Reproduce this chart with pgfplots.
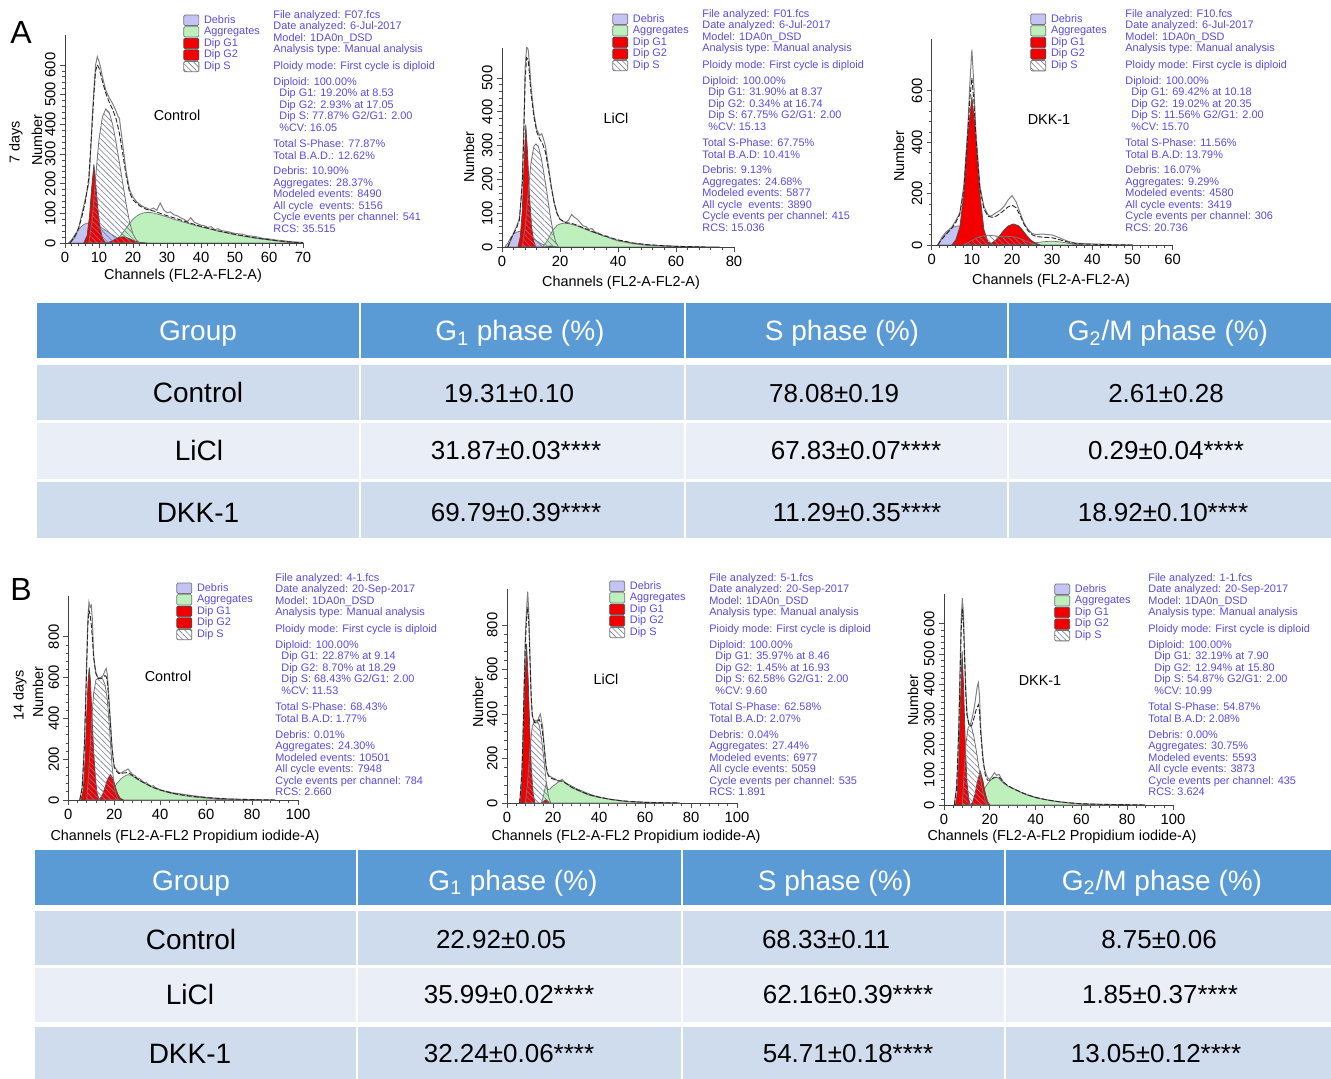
\documentclass[border=0pt]{standalone}
\usepackage{fontspec}
\setmainfont{Liberation Sans}
\usepackage{pgfplots}
\pgfplotsset{compat=1.18}
\usetikzlibrary{patterns.meta}
\definecolor{hdr}{HTML}{5B9BD5}
\definecolor{rowA}{HTML}{CFDCEE}
\definecolor{rowB}{HTML}{E9EEF7}
\definecolor{txtblue}{HTML}{584CDE}
\definecolor{debris}{HTML}{C4C4F4}
\definecolor{aggr}{HTML}{BEF0BE}
\definecolor{dipred}{HTML}{F20000}
\definecolor{hatch}{HTML}{7C7C9C}
\newcommand{\infofont}{\fontsize{5.45}{5.75}\selectfont}
\newcommand{\hdrfont}{\fontsize{14}{16}\selectfont}
\newcommand{\namefont}{\fontsize{14}{16}\selectfont}
\newcommand{\numfont}{\fontsize{13}{15}\selectfont}
\newcommand{\labfont}{\fontsize{7.2}{8}\selectfont}
\tikzset{
 deb/.style={fill=debris, draw=black!55, line width=0.35pt},
 agg/.style={fill=aggr, draw=black!55, line width=0.35pt},
 dip/.style={fill=dipred, draw=black!70, line width=0.35pt},
 dips/.style={pattern={Lines[angle=-45,distance=2pt,line width=0.3pt]}, pattern color=hatch, draw=black!55, line width=0.4pt},
 rawl/.style={draw=black!50, line width=0.5pt},
 fitl/.style={draw=black!85, line width=0.45pt, dash pattern=on 2.5pt off 1pt},
}
\pgfplotsset{
 histo/.style={scale only axis, anchor=south west, axis lines*=left,
  axis line style={-, black!75, line width=0.45pt}, xmin=0, ymin=0,
  tick align=outside, major tick length=2.5pt, minor tick length=1.3pt,
  tick style={black!70, line width=0.35pt}, minor x tick num=4, minor y tick num=4,
  tick label style={font=\fontsize{7.4}{8}\selectfont},
  /pgf/number format/assume math mode=true,
  yticklabel style={rotate=90, anchor=south, inner sep=2pt},
  xticklabel style={inner sep=2pt},
  legend cell align=left,
  legend image code/.code={\draw[##1, rounded corners=0.6pt] (0pt,-2.6pt) rectangle (7.5pt,2.6pt);},
  legend style={anchor=north west, draw=none, fill=none, inner sep=0pt, row sep=0pt,
   font=\fontsize{5.45}{6}\selectfont, text=txtblue,
   /tikz/every odd column/.append style={column sep=2pt},
   nodes={inner sep=0.4pt, text height=3.9pt, text depth=1.1pt}},
 },
}
\newcommand{\legs}{%
 \addlegendimage{deb}\addlegendentry{Debris}
 \addlegendimage{agg}\addlegendentry{Aggregates}
 \addlegendimage{dip}\addlegendentry{Dip G1}
 \addlegendimage{dip}\addlegendentry{Dip G2}
 \addlegendimage{dips}\addlegendentry{Dip S}}
\begin{document}
\begin{tikzpicture}
\begin{scope}[x=0.5pt,y=-0.5pt]
\useasboundingbox (0,0) rectangle (1331,1079);
% ---------- tables
\foreach \a/\b in {37/359,361/684,686/1007,1009/1331}{
 \fill[hdr] (\a,303) rectangle (\b,358);
 \fill[rowA] (\a,365) rectangle (\b,420);
 \fill[rowB] (\a,423) rectangle (\b,479);
 \fill[rowA] (\a,482) rectangle (\b,538);
}
\foreach \a/\b in {35/356,358/681,683/1004,1006/1331}{
 \fill[hdr] (\a,850) rectangle (\b,905);
 \fill[rowA] (\a,911) rectangle (\b,965);
 \fill[rowB] (\a,968) rectangle (\b,1022);
 \fill[rowA] (\a,1027) rectangle (\b,1079);
}
\begin{scope}[every node/.style={anchor=base, inner sep=0pt}]
\node[font=\hdrfont, text=white] at (198,341) {Group};
\node[font=\hdrfont, text=white] at (520,341) {G\textsubscript{1} phase (\%)};
\node[font=\hdrfont, text=white] at (842,341) {S phase (\%)};
\node[font=\hdrfont, text=white] at (1168,341) {G\textsubscript{2}/M phase (\%)};
\node[font=\namefont] at (198,403) {Control};
\node[font=\namefont] at (199,460) {LiCl};
\node[font=\namefont] at (198,522) {DKK-1};
\node[font=\numfont] at (509,402) {19.31±0.10};
\node[font=\numfont] at (834,402) {78.08±0.19};
\node[font=\numfont] at (1166,402) {2.61±0.28};
\node[font=\numfont] at (516,459) {31.87±0.03****};
\node[font=\numfont] at (856,459) {67.83±0.07****};
\node[font=\numfont] at (1166,459) {0.29±0.04****};
\node[font=\numfont] at (516,521) {69.79±0.39****};
\node[font=\numfont] at (857,521) {11.29±0.35****};
\node[font=\numfont] at (1163,521) {18.92±0.10****};
\node[font=\hdrfont, text=white] at (191,890) {Group};
\node[font=\hdrfont, text=white] at (513,890) {G\textsubscript{1} phase (\%)};
\node[font=\hdrfont, text=white] at (835,890) {S phase (\%)};
\node[font=\hdrfont, text=white] at (1162,890) {G\textsubscript{2}/M phase (\%)};
\node[font=\namefont] at (191,949) {Control};
\node[font=\namefont] at (190,1004) {LiCl};
\node[font=\namefont] at (190,1063) {DKK-1};
\node[font=\numfont] at (501,948) {22.92±0.05};
\node[font=\numfont] at (826,948) {68.33±0.11};
\node[font=\numfont] at (1159,948) {8.75±0.06};
\node[font=\numfont] at (509,1003) {35.99±0.02****};
\node[font=\numfont] at (848,1003) {62.16±0.39****};
\node[font=\numfont] at (1160,1003) {1.85±0.37****};
\node[font=\numfont] at (509,1062) {32.24±0.06****};
\node[font=\numfont] at (848,1062) {54.71±0.18****};
\node[font=\numfont] at (1156,1062) {13.05±0.12****};
\end{scope}
% ---------- panel letters
\node[font=\fontsize{16}{18}\selectfont] at (21,32) {A};
\node[font=\fontsize{16}{18}\selectfont] at (21,589) {B};
% ---------- axis labels
\begin{scope}[every node/.style={font=\labfont, inner sep=0pt}]
\node at (183,276) {Channels (FL2-A-FL2-A)};
\node at (621,283) {Channels (FL2-A-FL2-A)};
\node at (1051,281) {Channels (FL2-A-FL2-A)};
\node at (185,837) {Channels (FL2-A-FL2 Propidium iodide-A)};
\node at (626,837) {Channels (FL2-A-FL2 Propidium iodide-A)};
\node at (1062,837) {Channels (FL2-A-FL2 Propidium iodide-A)};
\node[rotate=90] at (37,140) {Number};
\node[rotate=90] at (16,142) {7 days};
\node[rotate=90] at (469,157) {Number};
\node[rotate=90] at (899,156) {Number};
\node[rotate=90] at (38,692) {Number};
\node[rotate=90] at (20,695) {14 days};
\node[rotate=90] at (478,702) {Number};
\node[rotate=90] at (913,700) {Number};
\node at (177,115) {Control};
\node at (616,118) {LiCl};
\node at (1049,120) {DKK-1};
\node at (168,676) {Control};
\node at (606,679) {LiCl};
\node at (1040,681) {DKK-1};
\end{scope}
% ---------- info blocks
\begin{scope}[every node/.style={anchor=north west, align=left, inner sep=0pt, text=txtblue, font=\infofont}]
\node at (273,10) {File analyzed: F07.fcs\\Date analyzed: 6-Jul-2017\\Model: 1DA0n\_DSD\\Analysis type: Manual analysis\\[2.65pt]Ploidy mode: First cycle is diploid\\[2pt]Diploid: 100.00\%\\\hspace*{3pt}Dip G1: 19.20\% at 8.53\\\hspace*{3pt}Dip G2: 2.93\% at 17.05\\\hspace*{3pt}Dip S: 77.87\% G2/G1: 2.00\\\hspace*{3pt}\%CV: 16.05\\[2.5pt]Total S-Phase: 77.87\%\\Total B.A.D.: 12.62\%\\[2.2pt]Debris: 10.90\%\\Aggregates: 28.37\%\\Modeled events: 8490\\All cycle\ \ events: 5156\\Cycle events per channel: 541\\RCS: 35.515};
\node at (702,9) {File analyzed: F01.fcs\\Date analyzed: 6-Jul-2017\\Model: 1DA0n\_DSD\\Analysis type: Manual analysis\\[2.65pt]Ploidy mode: First cycle is diploid\\[2pt]Diploid: 100.00\%\\\hspace*{3pt}Dip G1: 31.90\% at 8.37\\\hspace*{3pt}Dip G2: 0.34\% at 16.74\\\hspace*{3pt}Dip S: 67.75\% G2/G1: 2.00\\\hspace*{3pt}\%CV: 15.13\\[2.5pt]Total S-Phase: 67.75\%\\Total B.A.D: 10.41\%\\[2.2pt]Debris: 9.13\%\\Aggregates: 24.68\%\\Modeled events: 5877\\All cycle\ \ events: 3890\\Cycle events per channel: 415\\RCS: 15.036};
\node at (1125,9) {File analyzed: F10.fcs\\Date analyzed: 6-Jul-2017\\Model: 1DA0n\_DSD\\Analysis type: Manual analysis\\[2.65pt]Ploidy mode: First cycle is diploid\\[2pt]Diploid: 100.00\%\\\hspace*{3pt}Dip G1: 69.42\% at 10.18\\\hspace*{3pt}Dip G2: 19.02\% at 20.35\\\hspace*{3pt}Dip S: 11.56\% G2/G1: 2.00\\\hspace*{3pt}\%CV: 15.70\\[2.5pt]Total S-Phase: 11.56\%\\Total B.A.D: 13.79\%\\[2.2pt]Debris: 16.07\%\\Aggregates: 9.29\%\\Modeled events: 4580\\All cycle events: 3419\\Cycle events per channel: 306\\RCS: 20.736};
\node at (275,573) {File analyzed: 4-1.fcs\\Date analyzed: 20-Sep-2017\\Model: 1DA0n\_DSD\\Analysis type: Manual analysis\\[2.65pt]Ploidy mode: First cycle is diploid\\[2pt]Diploid: 100.00\%\\\hspace*{3pt}Dip G1: 22.87\% at 9.14\\\hspace*{3pt}Dip G2: 8.70\% at 18.29\\\hspace*{3pt}Dip S: 68.43\% G2/G1: 2.00\\\hspace*{3pt}\%CV: 11.53\\[2.5pt]Total S-Phase: 68.43\%\\Total B.A.D: 1.77\%\\[2.2pt]Debris: 0.01\%\\Aggregates: 24.30\%\\Modeled events: 10501\\All cycle events: 7948\\Cycle events per channel: 784\\RCS: 2.660};
\node at (709,573) {File analyzed: 5-1.fcs\\Date analyzed: 20-Sep-2017\\Model: 1DA0n\_DSD\\Analysis type: Manual analysis\\[2.65pt]Pioidy mode: First cycle is diploid\\[2pt]Diploid: 100.00\%\\\hspace*{3pt}Dip G1: 35.97\% at 8.46\\\hspace*{3pt}Dip G2: 1.45\% at 16.93\\\hspace*{3pt}Dip S: 62.58\% G2/G1: 2.00\\\hspace*{3pt}\%CV: 9.60\\[2.5pt]Total S-Phase: 62.58\%\\Total B.A.D: 2.07\%\\[2.2pt]Debris: 0.04\%\\Aggregates: 27.44\%\\Modeled events: 6977\\All cycle events: 5059\\Cycle events per channel: 535\\RCS: 1.891};
\node at (1148,573) {File analyzed: 1-1.fcs\\Date analyzed: 20-Sep-2017\\Model: 1DA0n\_DSD\\Analysis type: Manual analysis\\[2.65pt]Ploidy mode: First cycle is diploid\\[2pt]Diploid: 100.00\%\\\hspace*{3pt}Dip G1: 32.19\% at 7.90\\\hspace*{3pt}Dip G2: 12.94\% at 15.80\\\hspace*{3pt}Dip S: 54.87\% G2/G1: 2.00\\\hspace*{3pt}\%CV: 10.99\\[2.5pt]Total S-Phase: 54.87\%\\Total B.A.D: 2.08\%\\[2.2pt]Debris: 0.00\%\\Aggregates: 30.75\%\\Modeled events: 5593\\All cycle events: 3873\\Cycle events per channel: 435\\RCS: 3.624};
\end{scope}
\end{scope}

% ================= A Control
\begin{axis}[histo, at={(32.5pt,-121.5pt)}, width=119pt, height=103.85pt,
 xmax=70, ymax=700, xtick={0,10,...,70}, ytick={0,100,...,600},
 legend style={at={(0.496,1.1025)}}]
\legs
\addplot[deb, forget plot] coordinates {(1,0)(2,12)(3,30)(4,45)(5,58)(6,65)(7,68)(8,66)(9,62)(10,56)(11,50)(12,42)(13,35)(14,27)(15,20)(16,13)(17,7)(18,3)(19,0)} \closedcycle;
\addplot[agg, forget plot] coordinates {(14,0)(15,8)(16,20)(17,35)(18,50)(19,66)(20,80)(21,90)(22,97)(23,101)(24,103)(25,103)(26,101)(28,95)(30,88)(32,80)(35,70)(38,60)(40,54)(43,46)(45,40)(48,33)(50,28)(53,22)(55,18)(58,13)(60,10)(63,6)(65,4)(68,1)(70,0)} \closedcycle;
\addplot[dip, forget plot] coordinates {(5.5,0)(6.5,25)(7.2,90)(7.8,180)(8.5,265)(9.1,190)(9.8,100)(10.5,40)(11.2,12)(12,0)} \closedcycle;
\addplot[dip, forget plot] coordinates {(12,0)(13,3)(14,8)(15,14)(16,19)(17,21)(18,19)(19,14)(20,9)(21,5)(22,2)(24,0)} \closedcycle;
\addplot[dips, forget plot] coordinates {(7,0)(8,80)(9,220)(10,350)(11,425)(12,452)(13,440)(14,400)(15,340)(16,270)(17,200)(18,130)(19,70)(20,30)(21,10)(22,0)} \closedcycle;
\addplot[rawl, forget plot] coordinates {(1.5,0)(3,20)(4,50)(5,100)(6,150)(7,200)(7.5,300)(8,420)(8.5,520)(9,600)(9.5,628)(10,612)(10.5,590)(11,560)(12,515)(13,490)(14,470)(15,445)(15.5,430)(16,420)(17,330)(18,240)(19,180)(20,155)(21,140)(22,130)(23,122)(24,118)(25,112)(26,118)(27,110)(28,135)(29,112)(30,102)(31,105)(32,95)(33,92)(34,85)(35,80)(36,72)(37,85)(38,70)(39,65)(40,60)(41,58)(42,52)(43,55)(44,45)(45,48)(46,42)(48,38)(50,32)(52,30)(54,24)(56,22)(58,16)(60,14)(62,10)(64,8)(66,5)(68,3)(70,2)};
\addplot[fitl, forget plot] coordinates {(1.5,0)(3,25)(4,50)(5,90)(6,140)(7,220)(8,400)(8.5,500)(9,580)(9.5,600)(10,590)(11,545)(12,505)(13,475)(14,450)(15,420)(16,370)(17,300)(18,225)(19,170)(20,145)(22,125)(24,113)(26,108)(28,100)(30,92)(32,85)(35,74)(38,63)(40,56)(43,47)(45,41)(48,34)(50,29)(53,23)(55,19)(58,14)(60,11)(63,7)(65,5)(68,2)(70,1)};
\end{axis}

% ================= A LiCl
\begin{axis}[histo, at={(251pt,-123.5pt)}, width=116pt, height=99.7pt,
 xmax=80, ymax=590, xtick={0,20,...,80}, ytick={0,100,...,500},
 legend style={at={(0.474,1.1735)}}]
\legs
\addplot[deb, forget plot] coordinates {(1,0)(2,12)(3,28)(4,38)(5,44)(6,46)(7,44)(8,40)(9,35)(10,30)(11,24)(12,18)(13,12)(14,8)(15,4)(16,2)(17,0)} \closedcycle;
\addplot[agg, forget plot] coordinates {(14,0)(15,10)(16,25)(17,42)(18,55)(19,64)(20,68)(21,70)(22,70)(23,69)(24,67)(26,62)(28,55)(30,48)(32,42)(35,33)(38,25)(40,20)(43,15)(45,12)(48,9)(50,7)(55,4)(60,2)(65,1)(70,0)} \closedcycle;
\addplot[dip, forget plot] coordinates {(5.5,0)(6.3,30)(7,110)(7.6,250)(8.2,362)(8.8,280)(9.5,150)(10.2,60)(11,15)(11.7,0)} \closedcycle;
\addplot[dip, forget plot] coordinates {(15,0)(16,2)(16.7,3)(17.5,2)(18.5,0)} \closedcycle;
\addplot[dips, forget plot] coordinates {(7,0)(8,60)(9,160)(10,250)(11,298)(11.7,305)(12.5,298)(13.5,265)(14.5,215)(15.5,160)(16.5,100)(17.5,50)(18.5,15)(19.5,0)} \closedcycle;
\addplot[rawl, forget plot] coordinates {(2,0)(3,20)(4,42)(5,60)(6,85)(6.5,130)(7,200)(7.5,350)(8,535)(8.5,592)(9,585)(9.5,540)(10,475)(11,395)(12,347)(13,330)(13.7,335)(14.3,320)(15,298)(16,240)(17,180)(18,132)(19,100)(20,82)(21,76)(22,73)(23,80)(24,96)(25,88)(26,82)(27,72)(28,62)(29,60)(30,52)(31,55)(32,45)(33,42)(34,38)(35,32)(36,33)(37,27)(38,24)(40,18)(42,15)(45,10)(48,7)(50,5)(55,3)(60,2)(65,1)(70,0.5)(75,0)};
\addplot[fitl, forget plot] coordinates {(2,0)(3,22)(4,40)(5,55)(6,80)(7,190)(7.5,330)(8,500)(8.5,560)(9,555)(9.5,510)(10,455)(11,385)(12,340)(13,320)(14,305)(15,280)(16,230)(17,175)(18,130)(19,98)(20,82)(22,72)(24,70)(26,64)(28,57)(30,50)(32,43)(35,34)(38,26)(40,21)(43,16)(45,12)(50,7)(55,4)(60,2)(65,1)(70,0)};
\end{axis}

% ================= A DKK-1
\begin{axis}[histo, at={(465.85pt,-122.5pt)}, width=120.5pt, height=102.8pt,
 xmax=60, ymax=800, xtick={0,10,...,60}, ytick={0,200,...,600},
 legend style={at={(0.408,1.128)}}]
\legs
\addplot[deb, forget plot] coordinates {(1.5,0)(2.5,30)(3.5,50)(4.5,62)(5.5,70)(6.5,74)(7.5,74)(8.5,70)(9.5,60)(10.5,48)(11.5,35)(12.5,24)(13.5,15)(14.5,8)(15.5,3)(16.5,0)} \closedcycle;
\addplot[agg, forget plot] coordinates {(22,0)(24,4)(26,9)(28,13)(30,15)(32,12)(34,7)(36,3)(38,1)(40,0)} \closedcycle;
\addplot[dip, forget plot] coordinates {(5,0)(6,20)(7,70)(8,200)(9,430)(10,576)(11,430)(12,200)(13,60)(14,12)(15,0)} \closedcycle;
\addplot[dip, forget plot] coordinates {(14,0)(15,8)(16,20)(17,38)(18,58)(19,74)(20.3,82)(21.5,76)(22.5,60)(23.5,40)(24.5,22)(25.5,10)(27,0)} \closedcycle;
\addplot[dips, forget plot] coordinates {(8,0)(10,18)(12,33)(14,38)(16,35)(18,32)(20,34)(22,25)(24,12)(26,0)} \closedcycle;
\addplot[rawl, forget plot] coordinates {(1.5,0)(2.5,25)(3.5,45)(5,70)(6,95)(7,125)(8,230)(9,460)(9.5,630)(10,760)(10.5,620)(11,435)(12,230)(13,150)(14,118)(14.5,112)(15,115)(16,125)(17,135)(18,150)(19,175)(20,192)(21,168)(22,125)(23,85)(24,60)(25,45)(26,40)(27,42)(28,42)(29,40)(30,39)(31,33)(32,27)(33,20)(34,14)(35,10)(36,7)(38,5)(40,4)(42,3)(45,1)(50,0)};
\addplot[fitl, forget plot] coordinates {(1.5,0)(2.5,22)(3.5,40)(5,65)(6,88)(7,120)(8,215)(9,440)(9.5,570)(10,650)(10.5,560)(11,420)(12,220)(13,140)(14,112)(15,108)(16,112)(17,122)(18,135)(19,148)(20,155)(21,145)(22,115)(23,80)(24,55)(25,40)(26,33)(28,30)(30,28)(32,20)(34,11)(36,6)(38,4)(40,3)(45,1)(50,0)};
\end{axis}

% ================= B Control
\begin{axis}[histo, at={(34.15pt,-400pt)}, width=114.85pt, height=102pt,
 xmax=100, ymax=1000, xtick={0,20,...,100}, ytick={0,200,...,800},
 legend style={at={(0.469,1.0686)}}]
\legs
\addplot[agg, forget plot] coordinates {(17,0)(18,20)(19,40)(20,60)(21,80)(22,92)(23,105)(24,113)(25,120)(26,124)(27,122)(28,117)(30,103)(32,90)(34,78)(36,66)(38,56)(40,48)(43,38)(45,32)(48,26)(50,22)(53,17)(55,14)(58,11)(60,9)(63,7)(65,5)(70,3)(75,2)(80,1)(90,0)} \closedcycle;
\addplot[dip, forget plot] coordinates {(5.5,0)(6.5,50)(7.3,200)(8,420)(8.6,580)(9.1,650)(9.6,590)(10.3,420)(11,250)(11.8,110)(12.5,35)(13.5,0)} \closedcycle;
\addplot[dip, forget plot] coordinates {(13,0)(14,10)(15,30)(16,62)(17,100)(18.3,125)(19.5,105)(20.5,65)(21.5,30)(22.5,10)(24,0)} \closedcycle;
\addplot[dips, forget plot] coordinates {(8,0)(9,150)(10,360)(11,520)(12,588)(13,598)(14,600)(15,592)(16,565)(17,490)(18,340)(19,175)(20,65)(21,18)(22,0)} \closedcycle;
\addplot[rawl, forget plot] coordinates {(5,0)(6,60)(6.5,150)(7,280)(7.5,470)(8,680)(8.5,890)(9,970)(9.5,945)(10,955)(10.5,880)(11,720)(11.5,660)(12,625)(13,598)(14,600)(15,608)(15.5,620)(16,635)(16.5,645)(17,615)(17.5,540)(18,440)(19,265)(19.5,200)(20,165)(21,148)(22,135)(23,132)(24,140)(25,145)(26,152)(27,138)(28,125)(29,120)(30,108)(31,105)(32,95)(33,85)(34,86)(35,75)(36,68)(37,70)(38,60)(39,56)(40,50)(42,44)(44,40)(45,36)(47,33)(50,28)(53,23)(55,20)(58,16)(60,13)(63,10)(65,8)(70,5)(75,3)(80,2)(85,1)(90,0)};
\addplot[fitl, forget plot] coordinates {(5,0)(6,55)(7,260)(7.5,450)(8,650)(8.5,850)(9,930)(9.5,910)(10,860)(10.5,790)(11,700)(12,620)(13,595)(14,595)(15,600)(16,610)(16.5,605)(17,580)(18,430)(19,260)(20,160)(21,140)(22,130)(24,132)(26,135)(28,120)(30,104)(32,90)(34,78)(36,66)(38,57)(40,49)(45,34)(50,24)(55,17)(60,12)(65,8)(70,5)(80,2)(90,0)};
\end{axis}

% ================= B LiCl
\begin{axis}[histo, at={(253.5pt,-401.5pt)}, width=115pt, height=106.8pt,
 xmax=100, ymax=960, xtick={0,20,...,100}, ytick={0,200,...,800},
 legend style={at={(0.443,1.044)}}]
\legs
\addplot[agg, forget plot] coordinates {(15,0)(16,40)(17,88)(17.8,60)(18.5,62)(19.5,72)(20.5,80)(22,92)(23,98)(24,100)(25,95)(26,88)(28,77)(30,66)(32,57)(35,44)(38,33)(40,28)(43,21)(45,17)(48,13)(50,10)(53,7)(55,6)(58,4)(60,3)(65,2)(70,1)(75,0)} \closedcycle;
\addplot[dip, forget plot] coordinates {(5.5,0)(6.3,60)(7,240)(7.7,520)(8.5,715)(9.2,560)(9.9,330)(10.6,150)(11.4,40)(12.2,0)} \closedcycle;
\addplot[dip, forget plot] coordinates {(15,0)(16,8)(16.9,14)(17.8,8)(18.8,0)} \closedcycle;
\addplot[dips, forget plot] coordinates {(8,0)(9,100)(10,250)(11,345)(12,372)(13,372)(14,350)(15,290)(16,200)(17,100)(18,30)(19,0)} \closedcycle;
\addplot[rawl, forget plot] coordinates {(5.5,0)(6,60)(6.5,150)(7,330)(7.5,555)(8,760)(8.5,870)(9,950)(9.5,850)(10,660)(10.5,480)(11,390)(12,360)(13,360)(13.5,375)(14,390)(14.5,400)(15,370)(15.5,345)(16,280)(16.5,210)(17,160)(17.5,135)(18,125)(19,118)(20,112)(21,108)(22,100)(23,100)(24,106)(25,95)(26,85)(27,78)(28,70)(29,65)(30,60)(31,56)(32,52)(33,47)(34,43)(35,38)(36,35)(38,30)(40,26)(42,22)(45,16)(48,12)(50,9)(53,6)(55,5)(58,4)(60,3)(65,2)(70,1)(75,0)};
\addplot[fitl, forget plot] coordinates {(5.5,0)(6.5,140)(7,310)(7.5,530)(8,720)(8.5,830)(9,880)(9.5,800)(10,640)(10.5,480)(11,395)(12,362)(13,365)(14,375)(15,350)(16,270)(17,165)(18,122)(19,112)(20,108)(22,100)(24,98)(26,86)(28,72)(30,62)(32,53)(35,40)(38,31)(40,26)(45,16)(50,10)(55,6)(60,3)(70,1)(75,0)};
\end{axis}

% ================= B DKK-1
\begin{axis}[histo, at={(472pt,-402.5pt)}, width=114.5pt, height=105.7pt,
 xmax=100, ymax=700, xtick={0,20,...,100}, ytick={0,100,...,600},
 legend style={at={(0.480,1.050)}}]
\legs
\addplot[agg, forget plot] coordinates {(14,0)(15,15)(16,30)(17,45)(18,58)(19,70)(20,80)(21,86)(22,90)(23,92)(24,88)(25,80)(26,72)(28,62)(30,55)(32,48)(35,38)(38,30)(40,26)(43,20)(45,17)(48,13)(50,11)(53,8)(55,7)(58,5)(60,4)(65,2)(70,1)(75,0)} \closedcycle;
\addplot[dip, forget plot] coordinates {(5,0)(5.8,40)(6.5,160)(7.2,350)(7.9,510)(8.6,380)(9.3,200)(10,80)(10.8,20)(11.5,0)} \closedcycle;
\addplot[dip, forget plot] coordinates {(11.5,0)(12.5,10)(13.5,35)(14.5,75)(15.8,112)(17,80)(18,40)(19,12)(20,0)} \closedcycle;
\addplot[dips, forget plot] coordinates {(8,0)(8.7,100)(9.5,200)(10.5,255)(11.3,265)(12,258)(13,228)(14,185)(15,135)(16,85)(17,42)(18,15)(19,0)} \closedcycle;
\addplot[rawl, forget plot] coordinates {(4.5,0)(5.5,60)(6,130)(6.5,280)(7,450)(7.5,615)(8,685)(8.5,635)(9,500)(9.5,390)(10,310)(10.5,280)(11,268)(11.5,265)(12,280)(12.5,295)(13,315)(13.5,338)(14,365)(14.5,392)(15,405)(15.5,360)(16,260)(16.5,205)(17,160)(17.5,128)(18,110)(19,90)(20,85)(21,95)(22,107)(23,98)(24,102)(25,88)(26,75)(27,68)(28,62)(29,60)(30,55)(31,52)(32,48)(33,44)(34,40)(35,37)(36,34)(38,29)(40,24)(42,21)(45,17)(48,13)(50,11)(53,8)(55,7)(58,5)(60,4)(65,3)(70,2)(75,1.5)(80,1)(88,0)};
\addplot[fitl, forget plot] coordinates {(4.5,0)(5.5,55)(6.5,260)(7,420)(7.5,580)(8,650)(8.5,600)(9,480)(9.5,370)(10,300)(11,262)(12,262)(13,285)(14,315)(15,332)(15.5,310)(16,240)(17,150)(18,100)(19,82)(20,82)(22,92)(24,92)(26,76)(28,63)(30,55)(32,48)(35,38)(38,30)(40,25)(45,17)(50,11)(55,7)(60,4)(70,2)(80,1)(88,0)};
\end{axis}
\end{tikzpicture}
\end{document}
